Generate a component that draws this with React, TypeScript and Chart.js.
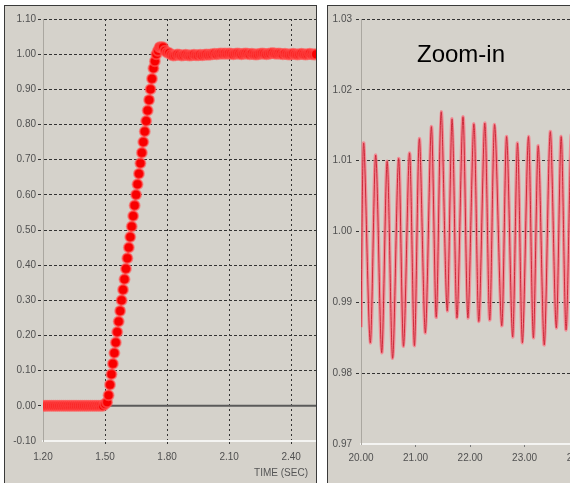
import React, { useEffect, useRef } from 'react';
import { Chart, registerables } from 'chart.js';

Chart.register(...registerables);

// ---------- Left panel: step response ----------
const stepTimes = [
  1.20, 1.21, 1.22, 1.23, 1.24, 1.25, 1.26, 1.27, 1.28, 1.29,
  1.30, 1.31, 1.32, 1.33, 1.34, 1.35, 1.36, 1.37, 1.38, 1.39,
  1.40, 1.41, 1.42, 1.43, 1.44, 1.45, 1.46, 1.47, 1.48, 1.49, 1.50,
  1.510, 1.517, 1.524, 1.531, 1.538, 1.545, 1.552, 1.559, 1.566, 1.573,
  1.580, 1.587, 1.594, 1.601, 1.608, 1.615, 1.622, 1.629, 1.636, 1.643,
  1.650, 1.657, 1.664, 1.671, 1.678, 1.685, 1.692, 1.699, 1.706, 1.713,
  1.720, 1.727, 1.734, 1.741, 1.748, 1.756, 1.764, 1.772, 1.780, 1.790, 1.800,
  1.81, 1.82, 1.83, 1.84, 1.85, 1.86, 1.87, 1.88, 1.89, 1.90,
  1.91, 1.92, 1.93, 1.94, 1.95, 1.96, 1.97, 1.98, 1.99, 2.00,
  2.01, 2.02, 2.03, 2.04, 2.05, 2.06, 2.07, 2.08, 2.09, 2.10,
  2.11, 2.12, 2.13, 2.14, 2.15, 2.16, 2.17, 2.18, 2.19, 2.20,
  2.21, 2.22, 2.23, 2.24, 2.25, 2.26, 2.27, 2.28, 2.29, 2.30,
  2.31, 2.32, 2.33, 2.34, 2.35, 2.36, 2.37, 2.38, 2.39, 2.40,
  2.41, 2.42, 2.43, 2.44, 2.45, 2.46, 2.47, 2.48, 2.49, 2.50,
  2.51, 2.52,
];
const stepValues = [
  0, 0, 0, 0, 0, 0, 0, 0, 0, 0,
  0, 0, 0, 0, 0, 0, 0, 0, 0, 0,
  0, 0, 0, 0, 0, 0, 0, 0, 0, 0, 0.005,
  0.01, 0.03, 0.06, 0.09, 0.12, 0.15, 0.18, 0.21, 0.24, 0.27,
  0.30, 0.33, 0.36, 0.39, 0.42, 0.45, 0.48, 0.51, 0.54, 0.57,
  0.60, 0.63, 0.66, 0.69, 0.72, 0.75, 0.78, 0.81, 0.84, 0.87,
  0.90, 0.93, 0.96, 0.98, 1.00, 1.01, 1.02, 1.02, 1.02, 1.01, 1.005,
  1.003, 0.998, 0.996, 0.997, 0.999, 0.998, 0.996, 0.997, 0.998, 0.997,
  0.996, 0.997, 0.998, 0.997, 0.997, 0.998, 0.997, 0.998, 0.999, 0.998,
  0.999, 1.000, 1.001, 1.000, 1.001, 1.002, 1.001, 1.002, 1.001, 1.002,
  1.001, 1.000, 1.001, 1.002, 1.001, 1.000, 1.001, 1.002, 1.001, 1.000,
  1.001, 1.000, 0.999, 1.000, 1.001, 1.002, 1.001, 1.000, 1.001, 1.002,
  1.003, 1.002, 1.001, 1.002, 1.001, 1.000, 1.001, 1.000, 0.999, 1.000,
  1.001, 1.000, 0.999, 1.000, 1.001, 1.000, 0.999, 1.000, 1.001, 1.000,
  0.999, 1.000,
];
const stepXRange = [1.2, 2.52];
const stepYRange = [-0.1, 1.1];
const stepZeroLine = [0, 0];
const stepXTicks = [1.2, 1.5, 1.8, 2.1, 2.4];
const stepYTicks = [-0.1, 0, 0.1, 0.2, 0.3, 0.4, 0.5, 0.6, 0.7, 0.8, 0.9, 1.0, 1.1];

// ---------- Right panel: zoom-in ----------
const zoomTimes = [
  20.00, 20.05, 20.17, 20.27, 20.38, 20.48, 20.58, 20.69, 20.78, 20.89,
  20.98, 21.07, 21.18, 21.29, 21.38, 21.47, 21.58, 21.67, 21.76, 21.87,
  21.96, 22.07, 22.16, 22.27, 22.36, 22.45, 22.58, 22.67, 22.78, 22.87,
  22.96, 23.07, 23.16, 23.25, 23.36, 23.47, 23.58, 23.67, 23.76, 23.86,
  23.96, 24.06, 24.16, 24.26, 24.36,
];
const zoomValues = [
  0.9865, 1.0125, 0.9843, 1.0108, 0.9829, 1.0099, 0.9821, 1.0103, 0.9838, 1.0111,
  0.9839, 1.0131, 0.9857, 1.0148, 0.9879, 1.0169, 0.9888, 1.0159, 0.9878, 1.0162,
  0.9878, 1.0152, 0.9873, 1.0153, 0.9875, 1.0151, 0.9867, 1.0134, 0.9851, 1.0125,
  0.9843, 1.0134, 0.9850, 1.0121, 0.9840, 1.0141, 0.9864, 1.0134, 0.9861, 1.0138,
  0.9860, 1.0135, 0.9862, 1.0130, 0.9860,
];
const zoomXRange = [20, 24.4];
const zoomYRange = [0.97, 1.03];
const zoomXTicks = [20, 21, 22, 23, 24];
const zoomYTicks = [0.97, 0.98, 0.99, 1.0, 1.01, 1.02, 1.03];

// ---------- styles ----------
const PANEL_BG = '#d5d2cb';
const GRID = '#333333';
const TICK_COLOR = '#505050';
const FONT = "'Liberation Sans', Arial, sans-serif";

const setTicks = (vals: number[]) => (scale: any) => {
  scale.ticks = vals.map((v) => ({ value: v }));
};
const fitX = (h: number) => (s: any) => {
  s.height = h;
  s.paddingLeft = 0;
  s.paddingRight = 0;
};
const fitY = (w: number) => (s: any) => {
  s.width = w;
  s.paddingTop = 0;
  s.paddingBottom = 0;
};

function stepConfig(): any {
  return {
    type: 'line',
    data: {
      datasets: [
        {
          data: stepXRange.map((x, i) => ({ x, y: stepZeroLine[i] })),
          borderColor: '#5a5a5a',
          borderWidth: 2,
          pointRadius: 0,
          order: 2,
        },
        {
          data: stepTimes.map((x, i) => ({ x, y: stepValues[i] })),
          borderColor: '#ff2020',
          borderWidth: 2,
          pointRadius: 5,
          pointBackgroundColor: '#f80000',
          pointBorderColor: 'rgba(255,90,90,0.6)',
          pointBorderWidth: 2,
          order: 1,
        },
      ],
    },
    options: {
      animation: false,
      responsive: false,
      maintainAspectRatio: false,
      layout: { autoPadding: false, padding: { top: 13, left: 0, right: 0, bottom: 0 } },
      plugins: { legend: { display: false }, tooltip: { enabled: false } },
      scales: {
        x: {
          type: 'linear',
          min: stepXRange[0],
          max: stepXRange[1],
          afterBuildTicks: setTicks(stepXTicks),
          afterFit: fitX(42),
          ticks: {
            callback: (v: number) => v.toFixed(2),
            font: { family: FONT, size: 10 },
            color: TICK_COLOR,
            padding: 5,
            maxRotation: 0,
            autoSkip: false,
          },
          grid: {
            color: (c: any) => (c.index === 0 ? 'rgba(0,0,0,0)' : GRID),
            lineWidth: 1,
            tickLength: 5,
            tickColor: (c: any) => (c.index === 0 ? 'rgba(0,0,0,0)' : GRID),
            tickBorderDash: [2, 3],
          },
          border: { color: '#f4f4f2', width: 2, dash: [2, 3] },
        },
        y: {
          type: 'linear',
          min: stepYRange[0],
          max: stepYRange[1],
          afterBuildTicks: setTicks(stepYTicks),
          afterFit: fitY(38),
          ticks: {
            callback: (v: number) => v.toFixed(2),
            font: { family: FONT, size: 10 },
            color: TICK_COLOR,
            padding: 2,
            autoSkip: false,
          },
          grid: {
            color: (c: any) => (c.index === 0 ? 'rgba(0,0,0,0)' : GRID),
            lineWidth: 1,
            tickLength: 5,
            tickColor: (c: any) => (c.index === 0 ? 'rgba(0,0,0,0)' : GRID),
            tickBorderDash: [3, 2],
          },
          border: { color: '#aaa7a0', width: 1, dash: [3, 2] },
        },
      },
    },
  };
}

function zoomConfig(): any {
  const pts = zoomTimes.map((x, i) => ({ x, y: zoomValues[i] }));
  return {
    type: 'line',
    data: {
      datasets: [
        {
          data: pts,
          borderColor: 'rgba(246,128,140,0.85)',
          borderWidth: 3.5,
          pointRadius: 0,
          tension: 0.3,
          order: 2,
        },
        {
          data: pts,
          borderColor: '#cc2a3a',
          borderWidth: 1,
          pointRadius: 0,
          tension: 0.3,
          order: 1,
        },
      ],
    },
    options: {
      animation: false,
      responsive: false,
      maintainAspectRatio: false,
      layout: { autoPadding: false, padding: { top: 13, left: 0, right: 0, bottom: 0 } },
      plugins: { legend: { display: false }, tooltip: { enabled: false } },
      scales: {
        x: {
          type: 'linear',
          min: zoomXRange[0],
          max: zoomXRange[1],
          afterBuildTicks: setTicks(zoomXTicks),
          afterFit: fitX(39),
          ticks: {
            callback: (v: number) => v.toFixed(2),
            font: { family: FONT, size: 10 },
            color: TICK_COLOR,
            padding: 5,
            maxRotation: 0,
            autoSkip: false,
          },
          grid: {
            drawOnChartArea: false,
            tickLength: 3,
            tickColor: (c: any) => (c.index === 0 ? 'rgba(0,0,0,0)' : '#7a7a7a'),
          },
          border: { color: '#f4f4f2', width: 2 },
        },
        y: {
          type: 'linear',
          min: zoomYRange[0],
          max: zoomYRange[1],
          afterBuildTicks: setTicks(zoomYTicks),
          afterFit: fitY(33),
          ticks: {
            callback: (v: number) => v.toFixed(2),
            font: { family: FONT, size: 10 },
            color: TICK_COLOR,
            padding: 4,
            autoSkip: false,
          },
          grid: {
            color: (c: any) => (c.index === 0 ? 'rgba(0,0,0,0)' : GRID),
            lineWidth: 1,
            tickLength: 5,
            tickColor: (c: any) => (c.index === 0 ? 'rgba(0,0,0,0)' : GRID),
            tickBorderDash: [3, 2],
          },
          border: { color: '#aaa7a0', width: 1, dash: [3, 2] },
        },
      },
    },
  };
}

function ChartCanvas({ width, height, make }: { width: number; height: number; make: () => any }) {
  const ref = useRef<HTMLCanvasElement | null>(null);
  useEffect(() => {
    if (!ref.current) return;
    const chart = new Chart(ref.current, make());
    return () => chart.destroy();
  }, []);
  return <canvas ref={ref} width={width} height={height} style={{ display: 'block', width, height }} />;
}

export default function App() {
  return (
    <div
      style={{
        position: 'absolute',
        left: 0,
        top: 0,
        width: 570,
        height: 483,
        overflow: 'hidden',
        background: '#ffffff',
        fontFamily: FONT,
      }}
    >
      <div
        style={{
          position: 'absolute',
          left: 4,
          top: 5,
          width: 311,
          height: 478,
          background: PANEL_BG,
          borderLeft: '1px solid #3a3a3a',
          borderTop: '1px solid #3a3a3a',
          borderRight: '1px solid #3a3a3a',
        }}
      >
        <ChartCanvas width={311} height={477} make={stepConfig} />
      </div>
      <span
        style={{
          position: 'absolute',
          right: 262,
          top: 467,
          fontSize: 10,
          lineHeight: '12px',
          color: '#555555',
          whiteSpace: 'nowrap',
        }}
      >
        TIME (SEC)
      </span>
      <div
        style={{
          position: 'absolute',
          left: 327,
          top: 5,
          width: 280,
          height: 478,
          background: PANEL_BG,
          borderLeft: '1px solid #3a3a3a',
          borderTop: '1px solid #3a3a3a',
        }}
      >
        <ChartCanvas width={273} height={477} make={zoomConfig} />
      </div>
      <span
        style={{
          position: 'absolute',
          left: 417,
          top: 42,
          fontSize: 24,
          lineHeight: '24px',
          color: '#000000',
          whiteSpace: 'nowrap',
        }}
      >
        Zoom-in
      </span>
    </div>
  );
}
